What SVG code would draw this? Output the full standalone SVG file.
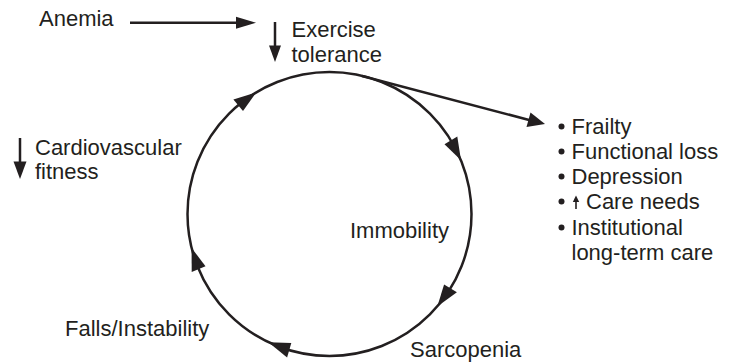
<svg xmlns="http://www.w3.org/2000/svg" width="735" height="362" viewBox="0 0 735 362">
<style>
text{font-family:"Liberation Sans",Arial,sans-serif;font-size:22px;fill:#231f20}
.ln{stroke:#231f20;stroke-width:2.5;fill:none}
.hd{fill:#231f20;stroke:none}
</style>
<rect width="735" height="362" fill="#fff"/>
<g id="connectors">
<circle class="ln" cx="329.5" cy="214" r="142" stroke-width="2.8"/>
<polygon class="hd" points="256.4,92.3 233.4,99.5 243.0,111.0"/>
<polygon class="hd" points="461,160.3 457.3,136.5 444.5,144.3"/>
<polygon class="hd" points="437.3,306.4 456.9,292.3 444.1,284.5"/>
<polygon class="hd" points="268.4,342.2 287.1,357.4 291.3,343.0"/>
<polygon class="hd" points="191.6,247.9 191.7,272.0 205.5,266.2"/>
<line class="ln" x1="130" y1="22.7" x2="240" y2="22.7"/>
<polygon class="hd" points="256,22.7 236,16.7 236,28.7"/>
<line class="ln" x1="362" y1="76" x2="530" y2="120.2"/>
<polygon class="hd" points="545,124 526.5,127 530.5,112.5"/>
</g>
<g id="anemia"><text x="39" y="26">Anemia</text></g>
<g id="exercise">
<line class="ln" x1="275" y1="22" x2="275" y2="50"/>
<polygon class="hd" points="275,62 269,45.5 281,45.5"/>
<text x="291.5" y="37">Exercise</text>
<text x="291.5" y="62">tolerance</text>
</g>
<g id="cardio">
<line class="ln" x1="20" y1="138" x2="20" y2="166"/>
<polygon class="hd" points="20,179 13.5,161.5 26.5,161.5"/>
<text x="35" y="155">Cardiovascular</text>
<text x="35" y="179">fitness</text>
</g>
<g id="immobility"><text x="449" y="238" text-anchor="end">Immobility</text></g>
<g id="falls"><text x="65" y="336">Falls/Instability</text></g>
<g id="sarcopenia"><text x="410" y="357">Sarcopenia</text></g>
<g id="outcomes">
<circle class="hd" cx="561.5" cy="126.5" r="3"/>
<text x="571.5" y="134">Frailty</text>
<circle class="hd" cx="561.5" cy="151.5" r="3"/>
<text x="571.5" y="159">Functional loss</text>
<circle class="hd" cx="561.5" cy="176.5" r="3"/>
<text x="571.5" y="184">Depression</text>
<circle class="hd" cx="561.5" cy="201.5" r="3"/>
<line x1="576" y1="209" x2="576" y2="200" stroke="#231f20" stroke-width="1.6"/>
<polygon class="hd" points="576,195.5 572.8,202 579.2,202"/>
<text x="586" y="209">Care needs</text>
<circle class="hd" cx="561.5" cy="227.5" r="3"/>
<text x="571.5" y="235">Institutional</text>
<text x="571.5" y="260">long-term care</text>
</g>
</svg>
